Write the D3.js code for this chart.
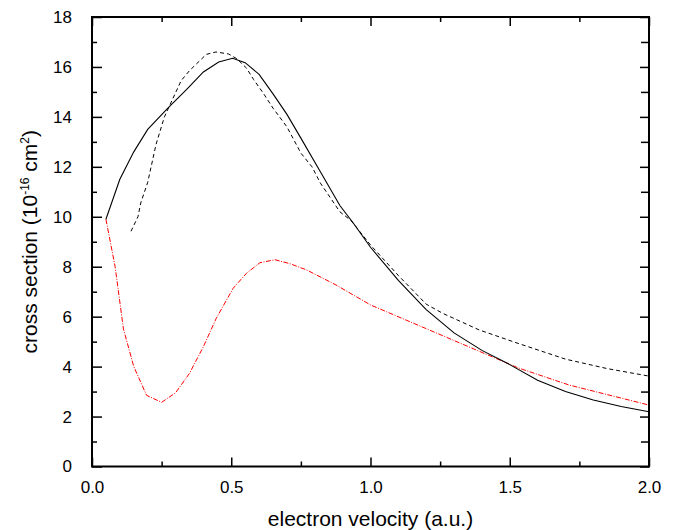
<!DOCTYPE html>
<html>
<head>
<meta charset="utf-8">
<script src="https://cdn.jsdelivr.net/npm/d3@7.9.0/dist/d3.min.js"></script>
<style>
  body { margin: 0; background: #fff; }
  svg text { font-family: "Liberation Sans", Arial, Helvetica, sans-serif; fill: #000; }
</style>
</head>
<body>
<svg id="chart" width="676" height="530"></svg>
<script>
// --- data ---
const solidX = [0.05, 0.10, 0.15, 0.20, 0.275, 0.34, 0.40, 0.455, 0.505, 0.55, 0.60, 0.65, 0.70, 0.75, 0.82, 0.89, 0.94, 1.0, 1.1, 1.2, 1.3, 1.4, 1.5, 1.6, 1.7, 1.8, 1.9, 2.0];
const solidY = [9.9, 11.5, 12.6, 13.5, 14.38, 15.1, 15.8, 16.2, 16.35, 16.17, 15.7, 14.92, 14.1, 13.15, 11.8, 10.45, 9.72, 8.78, 7.45, 6.28, 5.35, 4.65, 4.08, 3.45, 3.0, 2.66, 2.4, 2.19];

const dashedX = [0.14, 0.165, 0.175, 0.20, 0.23, 0.26, 0.32, 0.35, 0.41, 0.445, 0.49, 0.52, 0.555, 0.58, 0.615, 0.65, 0.70, 0.75, 0.79, 0.82, 0.89, 0.93, 1.0, 1.1, 1.2, 1.26, 1.39, 1.53, 1.7, 1.85, 2.0];
const dashedY = [9.42, 10.0, 10.55, 11.38, 12.9, 14.0, 15.45, 15.85, 16.5, 16.6, 16.52, 16.33, 15.95, 15.5, 14.95, 14.35, 13.6, 12.55, 12.0, 11.35, 10.2, 9.85, 8.87, 7.65, 6.5, 6.13, 5.47, 4.93, 4.3, 3.92, 3.62];

const redX = [0.05, 0.083, 0.113, 0.15, 0.196, 0.25, 0.30, 0.35, 0.40, 0.446, 0.507, 0.555, 0.603, 0.657, 0.711, 0.771, 0.876, 1.0, 1.24, 1.53, 1.714, 2.0];
const redY = [9.9, 8.0, 5.5, 4.0, 2.85, 2.57, 2.95, 3.73, 4.8, 5.93, 7.14, 7.74, 8.16, 8.28, 8.12, 7.87, 7.27, 6.47, 5.33, 3.95, 3.26, 2.46];

const xTickValues = [0, 0.5, 1.0, 1.5, 2.0];
const xMinorTicks = [0.25, 0.75, 1.25, 1.75];
const yTickValues = [0, 2, 4, 6, 8, 10, 12, 14, 16, 18];
const yMinorTicks = [1, 3, 5, 7, 9, 11, 13, 15, 17];

// --- layout ---
const margin = { left: 92, right: 27, top: 17, bottom: 63.5 };
const width = 676, height = 530;
const svg = d3.select('#chart');

const x = d3.scaleLinear().domain([0, 2]).range([margin.left, width - margin.right]);
const y = d3.scaleLinear().domain([0, 18]).range([height - margin.bottom, margin.top]);

const zip = (xs, ys) => xs.map((v, i) => [v, ys[i]]);
const line = d3.line().x(d => x(d[0])).y(d => y(d[1]));

// curves
svg.append('path')
  .attr('d', line(zip(redX, redY)))
  .attr('fill', 'none')
  .attr('stroke', '#ff0000')
  .attr('stroke-width', 1)
  .attr('stroke-dasharray', '5,1.5,1,1.5');

svg.append('path')
  .attr('d', line(zip(dashedX, dashedY)))
  .attr('fill', 'none')
  .attr('stroke', '#000')
  .attr('stroke-width', 1)
  .attr('stroke-dasharray', '4,3');

svg.append('path')
  .attr('d', line(zip(solidX, solidY)))
  .attr('fill', 'none')
  .attr('stroke', '#000')
  .attr('stroke-width', 1.1);

// axes (ticks pointing inward)
const axisStyle = g => {
  g.select('.domain').remove();
  g.selectAll('line').attr('stroke', '#000').attr('stroke-width', 1.5);
  g.selectAll('text').style('font-size', '17px');
};

svg.append('g')
  .attr('transform', `translate(0,${y(0)})`)
  .call(d3.axisBottom(x).tickValues(xTickValues).tickSizeInner(-9).tickSizeOuter(0)
    .tickPadding(14).tickFormat(d3.format('.1f')))
  .call(axisStyle);

svg.append('g')
  .attr('transform', `translate(0,${y(0)})`)
  .call(d3.axisBottom(x).tickValues(xMinorTicks).tickSizeInner(-5).tickSizeOuter(0).tickFormat(''))
  .call(axisStyle);

svg.append('g')
  .attr('transform', `translate(0,${y(18)})`)
  .call(d3.axisTop(x).tickValues(xTickValues).tickSizeInner(-9).tickSizeOuter(0).tickFormat(''))
  .call(axisStyle);

svg.append('g')
  .attr('transform', `translate(0,${y(18)})`)
  .call(d3.axisTop(x).tickValues(xMinorTicks).tickSizeInner(-5).tickSizeOuter(0).tickFormat(''))
  .call(axisStyle);

svg.append('g')
  .attr('transform', `translate(${x(0)},0)`)
  .call(d3.axisLeft(y).tickValues(yTickValues).tickSizeInner(-10).tickSizeOuter(0).tickPadding(20))
  .call(axisStyle);

svg.append('g')
  .attr('transform', `translate(${x(0)},0)`)
  .call(d3.axisLeft(y).tickValues(yMinorTicks).tickSizeInner(-5).tickSizeOuter(0).tickFormat(''))
  .call(axisStyle);

svg.append('g')
  .attr('transform', `translate(${x(2)},0)`)
  .call(d3.axisRight(y).tickValues(yTickValues).tickSizeInner(-9).tickSizeOuter(0).tickFormat(''))
  .call(axisStyle);

svg.append('g')
  .attr('transform', `translate(${x(2)},0)`)
  .call(d3.axisRight(y).tickValues(yMinorTicks).tickSizeInner(-8).tickSizeOuter(0).tickFormat(''))
  .call(axisStyle);

// frame
svg.append('rect')
  .attr('x', x(0)).attr('y', y(18))
  .attr('width', x(2) - x(0)).attr('height', y(0) - y(18))
  .attr('fill', 'none')
  .attr('stroke', '#000')
  .attr('stroke-width', 2);

// axis titles
svg.append('text')
  .attr('x', (x(0) + x(2)) / 2)
  .attr('y', 526)
  .attr('text-anchor', 'middle')
  .style('font-size', '21px')
  .text('electron velocity (a.u.)');

const yTitle = svg.append('text')
  .attr('transform', `translate(37,${(y(0) + y(18)) / 2}) rotate(-90)`)
  .attr('text-anchor', 'middle')
  .style('font-size', '21px');
yTitle.append('tspan').text('cross section (10');
yTitle.append('tspan').attr('dy', -8).style('font-size', '12px').text('-16');
yTitle.append('tspan').attr('dy', 8).text(' cm');
yTitle.append('tspan').attr('dy', -8).style('font-size', '12px').text('2');
yTitle.append('tspan').attr('dy', 8).text(')');
</script>
</body>
</html>
